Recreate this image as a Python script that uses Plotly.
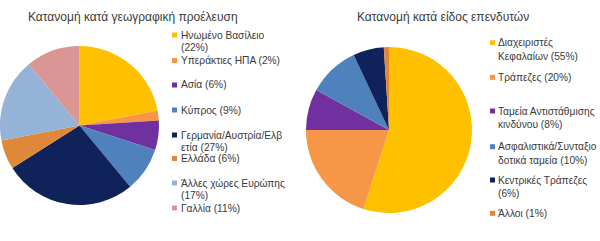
import plotly.graph_objects as go

# Data
geo_labels = ["Ηνωμένο Βασίλειο", "Υπεράκτιες ΗΠΑ", "Ασία", "Κύπρος",
              "Γερμανία/Αυστρία/Ελβετία", "Ελλάδα", "Άλλες χώρες Ευρώπης", "Γαλλία"]
geo_values = [22, 2, 6, 9, 27, 6, 17, 11]
geo_legend_text = ["Ηνωμένο Βασίλειο<br>(22%)", "Υπεράκτιες ΗΠΑ (2%)", "Ασία (6%)", "Κύπρος (9%)",
                   "Γερμανία/Αυστρία/Ελβ<br>ετία (27%)", "Ελλάδα (6%)",
                   "Άλλες χώρες Ευρώπης<br>(17%)", "Γαλλία (11%)"]
geo_colors = ["#FFC000", "#F79646", "#7030A0", "#4F81BD", "#0F2259", "#E0883A", "#95B3D7", "#D99694"]

inv_labels = ["Διαχειριστές Κεφαλαίων", "Τράπεζες", "Ταμεία Αντιστάθμισης κινδύνου",
              "Ασφαλιστικά/Συνταξιοδοτικά ταμεία", "Κεντρικές Τράπεζες", "Άλλοι"]
inv_values = [55, 20, 8, 10, 6, 1]
inv_legend_text = ["Διαχειριστές<br>Κεφαλαίων (55%)", "Τράπεζες (20%)",
                   "Ταμεία Αντιστάθμισης<br>κινδύνου (8%)", "Ασφαλιστικά/Συνταξιο<br>δοτικά ταμεία (10%)",
                   "Κεντρικές Τράπεζες<br>(6%)", "Άλλοι (1%)"]
inv_colors = ["#FFC000", "#F79646", "#7030A0", "#4F81BD", "#0F2259", "#E0883A"]

W, H = 600, 241
FONT = "Liberation Sans, Arial, sans-serif"
TXT = "#3a3a3a"

fig = go.Figure()
fig.add_trace(go.Pie(labels=geo_labels, values=geo_values, sort=False, direction="clockwise",
                     rotation=0, textinfo="none", hoverinfo="none",
                     marker=dict(colors=geo_colors, line=dict(width=0)),
                     domain=dict(x=[0 / W, 159 / W], y=[(H - 205) / H, (H - 46) / H]),
                     showlegend=False))
fig.add_trace(go.Pie(labels=inv_labels, values=inv_values, sort=False, direction="clockwise",
                     rotation=0, textinfo="none", hoverinfo="none",
                     marker=dict(colors=inv_colors, line=dict(width=0)),
                     domain=dict(x=[306 / W, 472 / W], y=[(H - 213) / H, (H - 47) / H]),
                     showlegend=False))

annotations = []
shapes = []

def add_legend(texts, colors, first_line_y, mx, tx, gap):
    for t, c, y in zip(texts, colors, first_line_y):
        shapes.append(dict(type="rect", xref="paper", yref="paper",
                           x0=mx / W, x1=(mx + 5) / W, y0=(H - y - 2.5) / H, y1=(H - y + 2.5) / H,
                           fillcolor=c, line=dict(width=0)))
        for i, line in enumerate(t.split("<br>")):
            ly = y + i * gap
            annotations.append(dict(text=line, xref="paper", yref="paper", x=tx / W, y=(H - ly) / H,
                                    xanchor="left", yanchor="middle", showarrow=False, align="left",
                                    font=dict(family=FONT, size=10.2, color=TXT)))

add_legend(geo_legend_text, geo_colors, [35, 60.5, 85, 110, 135, 158.5, 183, 208], 172, 178.5, 12.5)
add_legend(inv_legend_text, inv_colors, [42.7, 77.3, 111, 146.7, 180, 213.3], 490, 496, 13.5)

annotations.append(dict(text="Κατανομή κατά γεωγραφική προέλευση", xref="paper", yref="paper",
                        x=133 / W, y=(H - 17) / H, xanchor="center", yanchor="middle",
                        showarrow=False, font=dict(family=FONT, size=12, color=TXT)))
annotations.append(dict(text="Κατανομή κατά είδος επενδυτών", xref="paper", yref="paper",
                        x=443 / W, y=(H - 17) / H, xanchor="center", yanchor="middle",
                        showarrow=False, font=dict(family=FONT, size=12, color=TXT)))

fig.update_layout(width=W, height=H, margin=dict(l=0, r=0, t=0, b=0),
                  paper_bgcolor="white", plot_bgcolor="white",
                  annotations=annotations, shapes=shapes)

fig.write_html("out.html")
